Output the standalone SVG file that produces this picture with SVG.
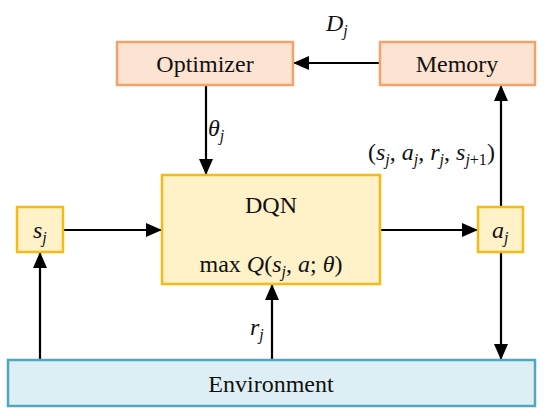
<svg xmlns="http://www.w3.org/2000/svg" width="550" height="416" viewBox="0 0 550 416" font-family="Liberation Serif, DejaVu Serif, serif">
<style>
text{font-size:24px;fill:#111}
.i{font-style:italic}
.s{font-size:16px;font-style:italic}
.n{font-size:16px;font-style:normal}
.orange{fill:#FCE3D2;stroke:#F2A36C;stroke-width:2.5}
.gold{fill:#FFF1C8;stroke:#F5BA16;stroke-width:2.5}
.blue{fill:#DDEFF5;stroke:#4FA8C2;stroke-width:2.5}
.c{stroke:#000;stroke-width:2.2;fill:none;marker-end:url(#ah)}
</style>
<defs>
<marker id="ah" markerUnits="userSpaceOnUse" markerWidth="16" markerHeight="14" refX="15" refY="7" orient="auto">
<path d="M0,0 L16,7 L0,14 Z" fill="#000"/>
</marker>
</defs>
<rect width="550" height="416" fill="#fff"/>
<g id="connectors">
<line class="c" x1="380" y1="63" x2="294" y2="63"/>
<line class="c" x1="206" y1="85" x2="206" y2="174"/>
<line class="c" x1="63" y1="230" x2="161" y2="230"/>
<line class="c" x1="380" y1="230" x2="477" y2="230"/>
<line class="c" x1="501" y1="207" x2="501" y2="86"/>
<line class="c" x1="501" y1="252" x2="501" y2="359"/>
<line class="c" x1="40" y1="360" x2="40" y2="253"/>
<line class="c" x1="272" y1="360" x2="272" y2="285"/>
</g>
<g id="labels">
<text class="i" x="326" y="31">D<tspan class="s" dy="5">j</tspan></text>
<text class="i" x="208" y="136">θ<tspan class="s" dy="5">j</tspan></text>
<text class="i" x="250" y="335">r<tspan class="s" dy="5">j</tspan></text>
<text x="368" y="160">(<tspan class="i">s</tspan><tspan class="s" dy="5">j</tspan><tspan dy="-5">, </tspan><tspan class="i">a</tspan><tspan class="s" dy="5">j</tspan><tspan dy="-5">, </tspan><tspan class="i">r</tspan><tspan class="s" dy="5">j</tspan><tspan dy="-5">, </tspan><tspan class="i">s</tspan><tspan class="s" dy="5">j</tspan><tspan class="n">+1</tspan><tspan dy="-5">)</tspan></text>
</g>
<g id="optimizer">
<rect class="orange" x="117" y="42" width="176" height="43"/>
<text x="205" y="72" text-anchor="middle">Optimizer</text>
</g>
<g id="memory">
<rect class="orange" x="380" y="42" width="155" height="43"/>
<text x="457" y="72" text-anchor="middle">Memory</text>
</g>
<g id="dqn">
<rect class="gold" x="162" y="175" width="218" height="109"/>
<text x="271" y="213" text-anchor="middle">DQN</text>
<text x="271" y="272" text-anchor="middle">max <tspan class="i">Q</tspan>(<tspan class="i">s</tspan><tspan class="s" dy="5">j</tspan><tspan dy="-5">, </tspan><tspan class="i">a</tspan>; <tspan class="i">θ</tspan>)</text>
</g>
<g id="sj">
<rect class="gold" x="17" y="207" width="46" height="45"/>
<text class="i" x="33" y="238">s<tspan class="s" dy="5">j</tspan></text>
</g>
<g id="aj">
<rect class="gold" x="478" y="207" width="45" height="45"/>
<text class="i" x="492" y="238">a<tspan class="s" dy="5">j</tspan></text>
</g>
<g id="environment">
<rect class="blue" x="8" y="360" width="527" height="46"/>
<text x="271" y="392" text-anchor="middle">Environment</text>
</g>
</svg>
